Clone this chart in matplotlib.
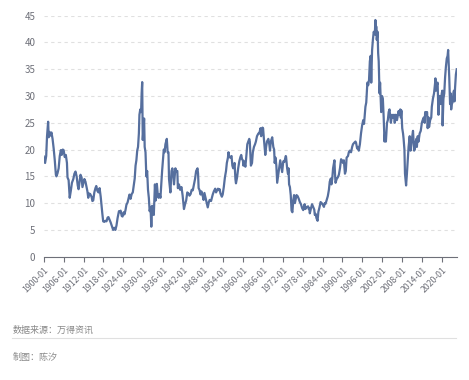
import numpy as np
import pandas as pd
import matplotlib
matplotlib.use("Agg")
import matplotlib.pyplot as plt

plt.rcParams['font.family'] = ['Noto Sans CJK SC', 'DejaVu Sans']

# monthly category axis 1900-01 .. 2024-06
months = pd.period_range("1900-01", "2024-06", freq="M").strftime("%Y-%m").tolist()
tick_labels = months[::72]

dates = [
    "1900-01", "1900-06", "1900-10", "1901-01", "1901-05", "1901-07", "1901-10", "1902-01", "1902-05", "1902-09",
    "1903-01", "1903-05", "1903-09", "1903-11", "1904-03", "1904-07", "1904-11", "1905-03", "1905-06", "1905-10",
    "1906-01", "1906-05", "1906-09", "1907-01", "1907-03", "1907-07", "1907-11", "1908-03", "1908-07", "1908-12",
    "1909-04", "1909-08", "1909-12", "1910-04", "1910-07", "1910-10", "1911-02", "1911-06", "1911-09", "1912-01",
    "1912-04", "1912-08", "1912-12", "1913-03", "1913-06", "1913-09", "1914-01", "1914-06", "1914-09", "1914-12",
    "1915-04", "1915-08", "1915-11", "1916-03", "1916-07", "1916-11", "1917-03", "1917-06", "1917-09", "1917-12",
    "1918-04", "1918-08", "1918-12", "1919-04", "1919-07", "1919-11", "1920-03", "1920-07", "1920-12", "1921-04",
    "1921-08", "1921-12", "1922-04", "1922-09", "1923-01", "1923-03", "1923-07", "1923-10", "1924-02", "1924-05",
    "1924-09", "1924-12", "1925-04", "1925-08", "1925-11", "1926-03", "1926-07", "1926-11", "1927-03", "1927-06",
    "1927-09", "1927-12", "1928-03", "1928-06", "1928-09", "1928-11", "1929-02", "1929-05", "1929-07", "1929-09",
    "1929-10", "1929-11", "1930-01", "1930-04", "1930-06", "1930-09", "1930-12", "1931-03", "1931-06", "1931-09",
    "1931-12", "1932-03", "1932-06", "1932-09", "1932-12", "1933-03", "1933-07", "1933-10", "1934-02", "1934-05",
    "1934-08", "1934-12", "1935-03", "1935-06", "1935-09", "1935-12", "1936-03", "1936-06", "1936-09", "1937-02",
    "1937-05", "1937-08", "1937-10", "1938-03", "1938-07", "1938-10", "1939-01", "1939-04", "1939-09", "1939-12",
    "1940-04", "1940-06", "1940-10", "1941-02", "1941-07", "1941-11", "1942-04", "1942-08", "1942-12", "1943-04",
    "1943-08", "1943-12", "1944-04", "1944-08", "1944-12", "1945-04", "1945-08", "1945-12", "1946-05", "1946-07",
    "1946-09", "1946-12", "1947-04", "1947-07", "1947-12", "1948-03", "1948-06", "1948-11", "1949-06", "1949-10",
    "1950-01", "1950-06", "1950-09", "1950-12", "1951-04", "1951-09", "1951-12", "1952-03", "1952-07", "1952-11",
    "1953-01", "1953-04", "1953-09", "1953-12", "1954-04", "1954-08", "1954-12", "1955-03", "1955-07", "1955-09",
    "1955-11", "1956-03", "1956-08", "1956-11", "1957-02", "1957-07", "1957-10", "1957-12", "1958-04", "1958-08",
    "1958-12", "1959-04", "1959-07", "1959-10", "1960-01", "1960-03", "1960-06", "1960-10", "1961-01", "1961-05",
    "1961-12", "1962-02", "1962-06", "1962-10", "1963-01", "1963-05", "1963-09", "1963-12", "1964-04", "1964-09",
    "1964-12", "1965-05", "1965-07", "1965-12", "1966-02", "1966-05", "1966-10", "1967-01", "1967-04", "1967-09",
    "1968-01", "1968-03", "1968-06", "1968-11", "1969-03", "1969-06", "1969-08", "1969-11", "1970-02", "1970-05",
    "1970-08", "1970-12", "1971-04", "1971-08", "1971-11", "1972-03", "1972-07", "1972-12", "1973-01", "1973-05",
    "1973-08", "1973-10", "1973-12", "1974-03", "1974-06", "1974-09", "1974-12", "1975-03", "1975-06", "1975-09",
    "1975-12", "1976-03", "1976-07", "1976-11", "1977-03", "1977-07", "1977-11", "1978-03", "1978-08", "1978-11",
    "1979-04", "1979-09", "1979-11", "1980-01", "1980-03", "1980-07", "1980-11", "1981-03", "1981-07", "1981-09",
    "1981-12", "1982-03", "1982-07", "1982-10", "1983-01", "1983-06", "1983-10", "1984-01", "1984-06", "1984-09",
    "1984-12", "1985-04", "1985-08", "1985-12", "1986-03", "1986-07", "1986-09", "1986-12", "1987-03", "1987-08",
    "1987-10", "1987-12", "1988-04", "1988-08", "1988-12", "1989-04", "1989-08", "1989-12", "1990-03", "1990-06",
    "1990-10", "1991-01", "1991-04", "1991-09", "1991-12", "1992-03", "1992-08", "1992-12", "1993-03", "1993-08",
    "1993-12", "1994-02", "1994-06", "1994-10", "1994-12", "1995-04", "1995-08", "1995-12", "1996-04", "1996-07",
    "1996-12", "1997-03", "1997-07", "1997-10", "1998-01", "1998-04", "1998-07", "1998-09", "1998-12", "1999-03",
    "1999-06", "1999-10", "1999-12", "2000-02", "2000-03", "2000-05", "2000-08", "2000-10", "2000-12", "2001-03",
    "2001-05", "2001-09", "2001-12", "2002-03", "2002-06", "2002-09", "2002-11", "2003-02", "2003-06", "2003-09",
    "2003-12", "2004-03", "2004-08", "2004-12", "2005-03", "2005-07", "2005-10", "2006-02", "2006-06", "2006-12",
    "2007-03", "2007-06", "2007-08", "2007-10", "2008-01", "2008-04", "2008-06", "2008-09", "2008-11", "2009-03",
    "2009-06", "2009-09", "2009-12", "2010-04", "2010-07", "2010-12", "2011-04", "2011-08", "2011-10", "2012-01",
    "2012-04", "2012-06", "2012-09", "2012-12", "2013-04", "2013-08", "2013-12", "2014-03", "2014-07", "2014-10",
    "2014-12", "2015-03", "2015-07", "2015-09", "2015-12", "2016-02", "2016-06", "2016-10", "2016-12", "2017-04",
    "2017-08", "2017-12", "2018-01", "2018-03", "2018-06", "2018-09", "2018-12", "2019-03", "2019-06", "2019-08",
    "2019-12", "2020-02", "2020-03", "2020-06", "2020-09", "2020-12", "2021-03", "2021-06", "2021-09", "2021-11",
    "2022-01", "2022-03", "2022-06", "2022-08", "2022-10", "2022-12", "2023-03", "2023-06", "2023-08", "2023-10",
    "2023-12", "2024-03", "2024-06",
]
cape = [
    18.7, 17.5, 18.8, 22.5, 25.2, 22.3, 23.3, 22.6, 23.2, 22.0,
    20.2, 18.0, 15.3, 15.0, 15.6, 16.5, 18.8, 19.9, 19.0, 20.0,
    19.9, 18.6, 19.0, 17.5, 14.8, 14.3, 11.0, 12.3, 13.8, 14.5,
    15.5, 15.9, 15.0, 13.3, 12.6, 13.8, 15.3, 14.8, 13.0, 13.9,
    14.5, 14.0, 13.0, 12.2, 11.0, 11.8, 11.7, 11.2, 10.4, 10.5,
    12.0, 12.8, 13.2, 12.3, 12.0, 12.8, 11.2, 9.5, 8.0, 6.6,
    6.5, 6.7, 6.6, 7.3, 7.4, 6.9, 6.4, 5.8, 5.0, 5.4,
    5.0, 5.8, 7.2, 8.5, 8.3, 8.6, 7.6, 7.5, 8.3, 7.9,
    8.8, 9.7, 10.1, 11.0, 11.6, 10.8, 11.7, 12.0, 13.5, 14.6,
    17.0, 18.0, 19.8, 20.5, 23.0, 26.5, 27.5, 27.0, 30.5, 32.6,
    27.0, 21.8, 23.5, 25.8, 20.5, 19.5, 15.0, 16.0, 12.5, 11.0,
    8.5, 9.3, 5.6, 9.5, 8.3, 7.8, 13.5, 10.5, 13.6, 11.8,
    11.0, 11.7, 11.0, 13.5, 16.0, 18.0, 20.0, 19.5, 21.0, 22.0,
    19.5, 19.5, 14.5, 12.0, 16.0, 16.5, 15.5, 13.5, 16.5, 16.0,
    16.0, 12.8, 13.5, 12.5, 13.0, 11.5, 8.9, 9.8, 10.5, 12.0,
    11.8, 11.4, 11.7, 12.5, 12.4, 13.5, 14.5, 16.0, 16.5, 15.5,
    12.8, 12.5, 11.6, 12.2, 11.3, 10.6, 11.9, 10.8, 9.2, 10.2,
    10.6, 10.4, 11.0, 11.6, 12.2, 12.7, 12.0, 12.3, 12.7, 12.4,
    12.6, 11.8, 11.2, 11.6, 13.0, 14.8, 16.0, 17.5, 18.5, 19.5,
    18.8, 18.5, 18.8, 17.0, 16.5, 17.5, 14.5, 13.7, 14.8, 16.5,
    17.8, 18.6, 19.0, 18.2, 18.0, 17.0, 17.8, 16.8, 18.5, 21.0,
    22.0, 21.5, 17.0, 17.5, 19.5, 20.5, 21.0, 21.5, 22.5, 23.0,
    23.0, 24.0, 22.5, 24.1, 24.0, 22.0, 19.0, 20.5, 21.5, 22.0,
    20.8, 19.8, 21.5, 22.3, 20.5, 20.0, 17.5, 18.5, 17.0, 13.8,
    15.0, 16.5, 18.0, 16.8, 15.8, 17.8, 17.7, 18.8, 18.7, 16.5,
    15.5, 16.5, 13.5, 13.0, 11.5, 8.6, 8.3, 10.5, 11.5, 10.0,
    10.8, 11.5, 11.3, 10.8, 10.2, 9.8, 9.1, 8.7, 9.8, 8.9,
    9.3, 9.4, 8.9, 9.0, 8.1, 9.0, 9.8, 9.3, 8.8, 7.8,
    8.0, 7.2, 6.7, 8.4, 9.0, 10.2, 10.0, 9.8, 9.3, 10.0,
    9.9, 10.6, 11.3, 12.5, 14.0, 14.6, 13.5, 14.5, 16.5, 18.0,
    15.5, 13.8, 14.5, 14.8, 15.3, 16.5, 18.2, 17.9, 17.5, 18.0,
    15.5, 16.0, 18.5, 18.8, 19.5, 19.8, 19.5, 20.5, 21.0, 21.3,
    21.5, 21.3, 20.2, 20.5, 19.8, 21.0, 23.0, 24.5, 25.5, 24.8,
    28.0, 28.8, 32.5, 32.0, 33.0, 36.5, 37.5, 32.5, 38.5, 40.5,
    42.0, 41.5, 44.2, 41.5, 43.0, 40.5, 42.0, 38.0, 36.5, 30.5,
    32.5, 27.0, 30.0, 29.5, 26.0, 21.5, 23.0, 21.5, 25.0, 25.5,
    27.0, 27.5, 25.0, 26.5, 26.0, 26.5, 25.0, 26.5, 25.5, 27.2,
    26.5, 27.5, 26.0, 27.3, 24.0, 23.0, 22.0, 20.0, 15.5, 13.3,
    15.5, 18.0, 20.5, 22.5, 19.8, 22.0, 23.5, 19.8, 20.0, 21.2,
    22.0, 20.5, 22.5, 21.5, 23.0, 23.5, 25.0, 25.5, 26.0, 25.0,
    27.0, 27.0, 27.0, 24.0, 26.0, 24.2, 25.5, 26.0, 28.0, 29.5,
    30.5, 32.5, 33.3, 31.0, 32.0, 32.5, 26.5, 30.0, 30.0, 28.5,
    30.5, 31.0, 24.5, 29.5, 30.5, 33.5, 35.5, 37.0, 37.5, 38.6,
    36.0, 33.5, 28.5, 30.5, 27.5, 28.5, 28.8, 30.5, 31.0, 29.0,
    31.5, 34.0, 35.0,
]

y_ticks = [0, 5, 10, 15, 20, 25, 30, 35, 40, 45]

line_color = "#566f9e"
text_color = "#6e7079"

xi = [months.index(d) for d in dates]

fig = plt.figure(figsize=(4.69, 3.80), dpi=100)
ax = fig.add_axes([0.0932, 0.3245, 0.8806, 0.6342])

ax.plot(xi, cape, color=line_color, lw=1.6, solid_joinstyle="round")

ax.set_xlim(0, len(months) - 1)
ax.set_ylim(0, 45)
ax.set_yticks(y_ticks)
ax.set_yticklabels([str(v) for v in y_ticks], color=text_color, fontsize=7)
ax.tick_params(axis="y", length=0, pad=6)

ax.set_xticks(range(0, len(months), 72))
ax.set_xticklabels(tick_labels, rotation=45, ha="right", rotation_mode="anchor",
                   color=text_color, fontsize=6.3)
ax.tick_params(axis="x", length=3.5, width=0.8, color="#6e7079", pad=3)

ax.grid(axis="y", color="#e0e0e0", linestyle=(0, (3, 3)), lw=0.8)
ax.set_axisbelow(True)
for s in ["top", "right", "left"]:
    ax.spines[s].set_visible(False)
ax.spines["bottom"].set_color("#6e7079")
ax.spines["bottom"].set_linewidth(0.8)

fig.text(13 / 469, 1 - 330 / 380, "数据来源：万得资讯", fontsize=6.5, color="#888888", va="center")
fig.add_artist(plt.Line2D([12 / 469, 456 / 469], [1 - 337.5 / 380] * 2, color="#e0e0e0", lw=0.8))
fig.text(13 / 469, 1 - 357 / 380, "制图：陈汐", fontsize=6.5, color="#888888", va="center")

fig.savefig("out.png", dpi=100)
